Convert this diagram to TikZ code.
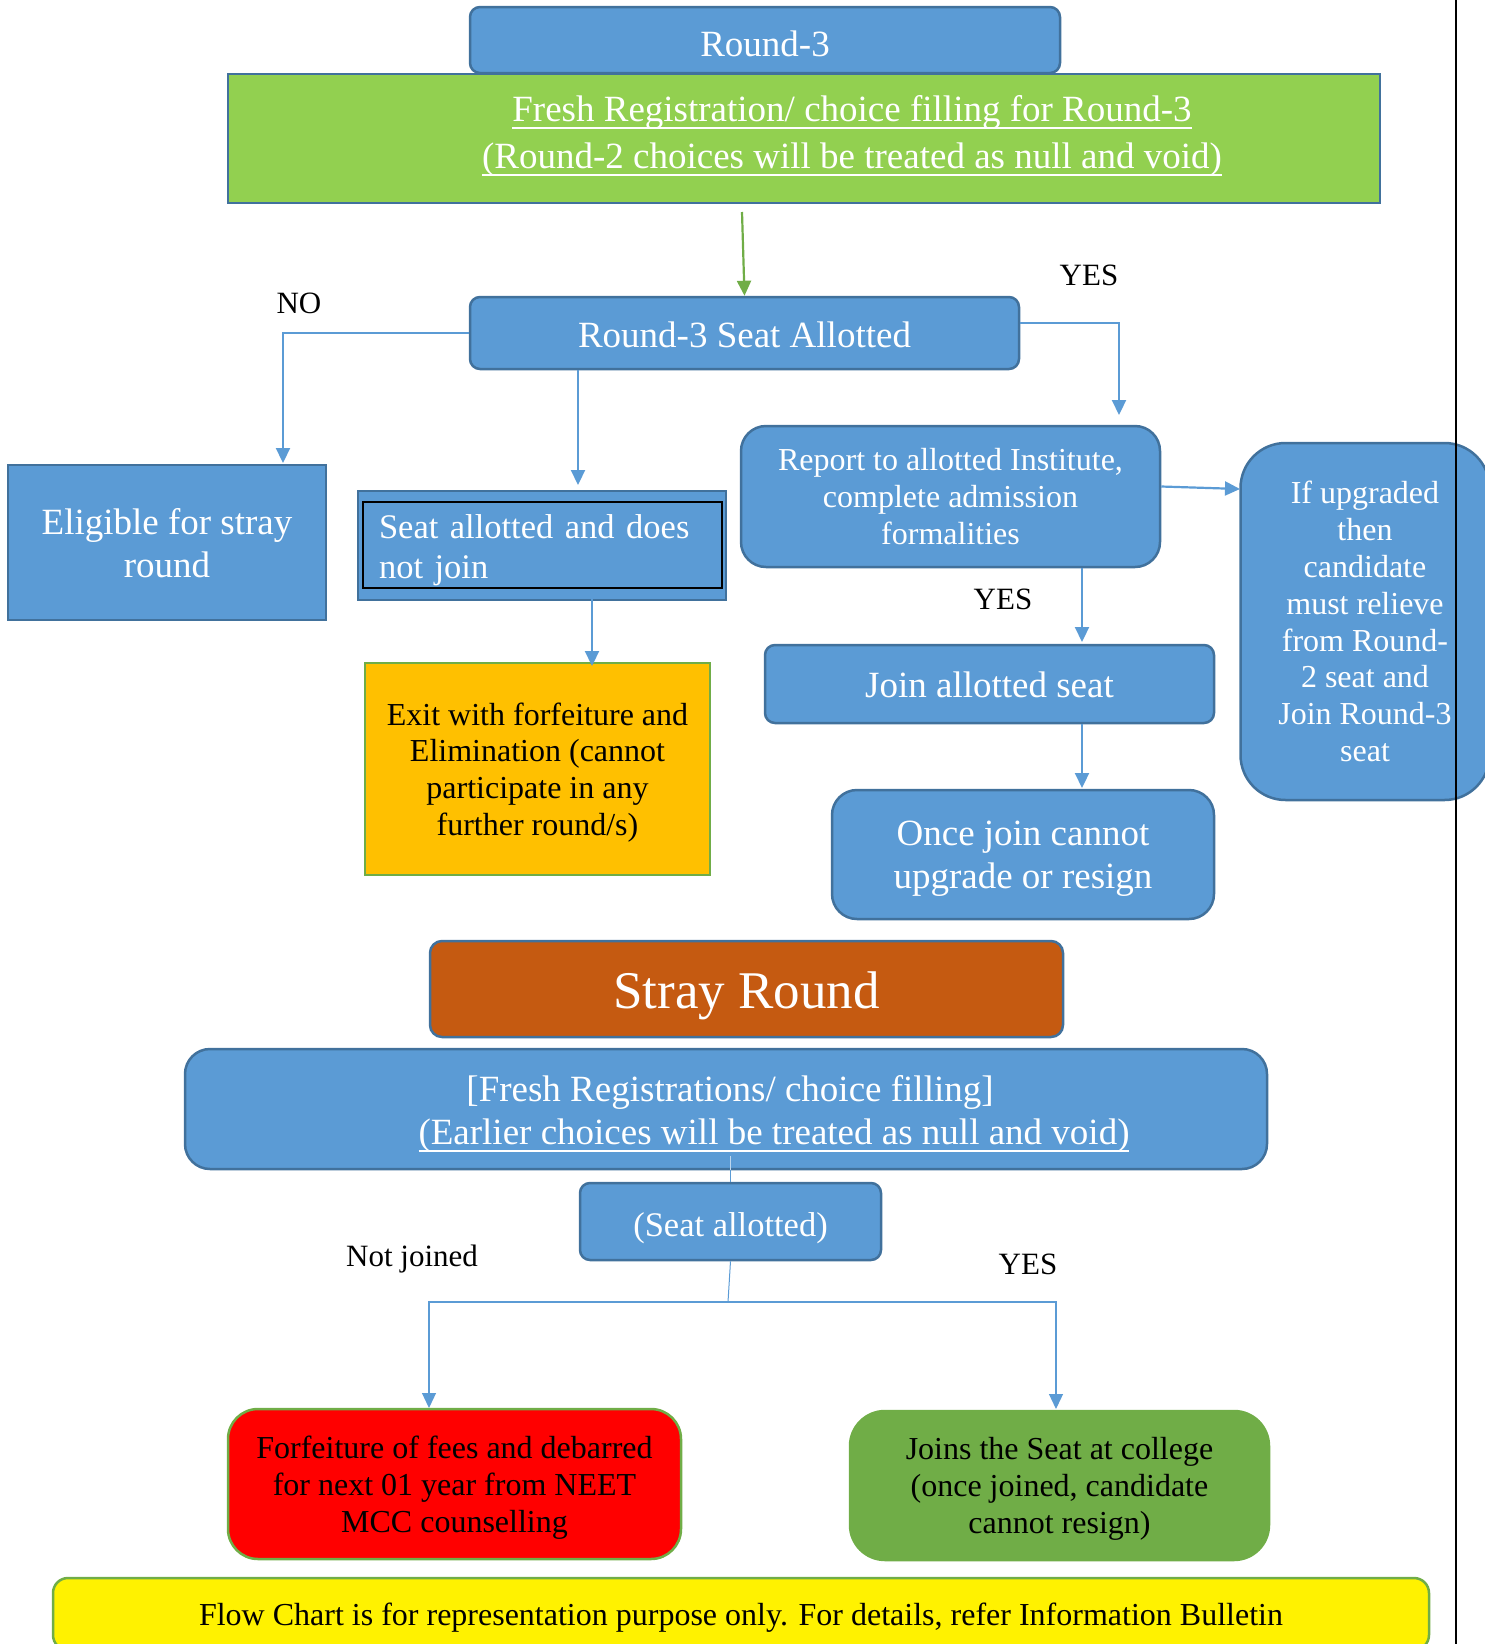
\documentclass[tikz,border=0pt]{standalone}
\usepackage{fontspec}
\setmainfont{Liberation Serif}
\usetikzlibrary{arrows.meta,calc}

\definecolor{boxblue}{HTML}{5B9BD5}
\definecolor{edgeblue}{HTML}{41719C}
\definecolor{leafgreen}{HTML}{92D050}
\definecolor{darkgreen}{HTML}{70AD47}
\definecolor{amber}{HTML}{FFC000}
\definecolor{rust}{HTML}{C55A11}

% underline with a heavier rule
\newsavebox{\ulbox}
\newcommand{\ulined}[1]{\sbox{\ulbox}{#1}\rlap{\rule[-7pt]{\wd\ulbox}{2pt}}\usebox{\ulbox}}

\begin{document}
\begin{tikzpicture}[x=1pt,y=-1pt]
    \tikzstyle{bluebox}=[draw=edgeblue, line width=2.5pt, fill=boxblue, text=white, rounded corners=10pt, inner sep=0pt, align=center]
    \tikzstyle{bigtext}=[font=\fontsize{37}{43}\selectfont]
    \tikzstyle{midtext}=[font=\fontsize{32}{36.8}\selectfont]
    \tikzstyle{flowarr}=[draw=boxblue, line width=2.2pt, -{Triangle[length=15pt,width=14pt]}]
    \tikzstyle{thinline}=[draw=boxblue, line width=1pt]
    \tikzstyle{answer}=[font=\fontsize{31}{36}\selectfont, text=black]

    \useasboundingbox (0,0) rectangle (1485,1644);

    % Round-3 header
    \node[bluebox, bigtext, text height=33.3pt, minimum width=590pt, minimum height=66pt] (round) at (765,40) {Round-3};
    \node[draw=edgeblue, line width=2.5pt, fill=leafgreen, minimum width=1152pt, minimum height=129pt] (fresh) at (804,138.5) {};
    \node[text=white, align=center, font=\fontsize{37}{47}\selectfont] (freshtxt) at (852,136)
        {\ulined{Fresh Registration/ choice filling for Round-3}\\\ulined{(Round-2 choices will be treated as null and void)}};

    % Allotment
    \node[bluebox, bigtext, text height=29.3pt, minimum width=549pt, minimum height=72pt] (allot) at (744.5,333) {Round-3 Seat Allotted};
    \node[bluebox, bigtext, text depth=-9pt, rounded corners=0pt, minimum width=318pt, minimum height=155pt] (elig) at (167,542.5) {Eligible for stray\\round};
    \node[bluebox, rounded corners=0pt, minimum width=368pt, minimum height=109pt] (notjoin) at (542,545.5) {};
    \node[draw=black, line width=2.5pt, text=white, font=\fontsize{34.5}{40}\selectfont, text height=33.6pt, align=left, text width=327pt, inner xsep=16pt, inner ysep=0pt, minimum height=86pt] (njtxt) at (542.5,545) {Seat allotted and does\\not join};
    \node[draw=darkgreen, line width=2pt, fill=amber, midtext, text depth=-8pt, align=center, inner sep=0pt, minimum width=345pt, minimum height=212pt] (exit) at (537.5,769)
        {Exit with forfeiture and\\Elimination (cannot\\participate in any\\further round/s)};

    % Joining path
    \node[bluebox, midtext, text depth=-12pt, rounded corners=25pt, minimum width=419pt, minimum height=141pt] (report) at (950.5,496.5)
        {Report to allotted Institute,\\complete admission\\formalities};
    \node[bluebox, midtext, text depth=-8pt, rounded corners=45pt, minimum width=249pt, minimum height=357pt] (upg) at (1365,621.5)
        {If upgraded\\then\\candidate\\must relieve\\from Round-\\2 seat and\\Join Round-3\\seat};
    \node[bluebox, bigtext, text height=27.3pt, minimum width=449pt, minimum height=78pt] (join) at (989.5,684) {Join allotted seat};
    \node[bluebox, bigtext, text depth=-8pt, rounded corners=25pt, minimum width=382pt, minimum height=129pt] (once) at (1023,854.5) {Once join cannot\\upgrade or resign};

    % Stray round
    \node[bluebox, fill=rust, rounded corners=12pt, font=\fontsize{53}{60}\selectfont, text height=49.8pt, minimum width=633pt, minimum height=96pt] (stray) at (746.5,989) {Stray Round};
    \node[bluebox, rounded corners=25pt, minimum width=1082pt, minimum height=120pt] (strayreg) at (726,1109) {};
    \node[text=white, bigtext] (regtxt) at (730,1092) {[Fresh Registrations/ choice filling]};
    \node[text=white, bigtext] (voidtxt) at (774,1136) {\ulined{(Earlier choices will be treated as null and void)}};
    \node[bluebox, font=\fontsize{34.5}{40}\selectfont, text height=38pt, minimum width=301pt, minimum height=77pt] (seat) at (730.5,1221.5) {(Seat allotted)};
    \node[draw=darkgreen, line width=2.5pt, fill=red, rounded corners=30pt, midtext, text depth=-8pt, align=center, minimum width=453pt, minimum height=150pt] (debar) at (454.5,1484)
        {Forfeiture of fees and debarred\\for next 01 year from NEET\\MCC counselling};
    \node[draw=darkgreen, line width=2.5pt, fill=darkgreen, rounded corners=35pt, midtext, text depth=-8pt, align=center, minimum width=419pt, minimum height=149pt] (joins) at (1059.5,1485.5)
        {Joins the Seat at college\\(once joined, candidate\\cannot resign)};
    \node[draw=darkgreen, line width=2.5pt, fill=yellow, rounded corners=15pt, midtext, text height=29.9pt, minimum width=1376pt, minimum height=72pt] (note) at (741,1614)
        {Flow Chart is for representation purpose only. For details, refer Information Bulletin};

    % Answer labels
    \node[answer] (no) at (299,303) {NO};
    \node[answer] (yesa) at (1089,275) {YES};
    \node[answer] (yesb) at (1003,599) {YES};
    \node[answer] (notjoined) at (412,1259) {Not joined};
    \node[answer] (yesc) at (1028,1264) {YES};

    % Arrow ends
    \coordinate (gstart) at (742,212);
    \coordinate (nohead) at (283,463);
    \coordinate (midhead) at (578,485);
    \coordinate (exithead) at (592,666);
    \coordinate (yeshead) at (1119,415);
    \coordinate (upghead) at (1240,489);
    \coordinate (joinhead) at (1082,642);
    \coordinate (oncehead) at (1082,788);
    \coordinate (split) at (728,1302);
    \coordinate (debarhead) at (429,1408);
    \coordinate (joinshead) at (1056,1409);

    % Connectors
    \draw[draw=darkgreen, line width=2.2pt, -{Triangle[length=15pt,width=14pt]}] (gstart) -- (allot.north);
    \draw[flowarr] (allot.west) -| (nohead);
    \draw[flowarr] (allot.south -| midhead) -- (midhead);
    \draw[flowarr] (njtxt.south -| exithead) -- (exithead);
    \draw[flowarr] ($(allot.east)+(0,-10)$) -| (yeshead);
    \draw[flowarr] ($(report.east)+(0,-10)$) -- (upghead);
    \draw[flowarr] (report.south -| joinhead) -- (joinhead);
    \draw[flowarr] (join.south -| oncehead) -- (oncehead);
    \draw[thinline, draw=white!60!boxblue] (voidtxt.south -| seat.north) -- (strayreg.south -| seat.north);
    \draw[thinline] (strayreg.south -| seat.north) -- (seat.north);
    \draw[thinline] (seat.south) -- (split);
    \draw[flowarr, line width=1.2pt] (split) -| (debarhead);
    \draw[flowarr, line width=1.2pt] (split) -| (joinshead);

    % Page rule
    \draw[black, line width=2pt] (1456,0) -- (1456,1644);
\end{tikzpicture}
\end{document}
